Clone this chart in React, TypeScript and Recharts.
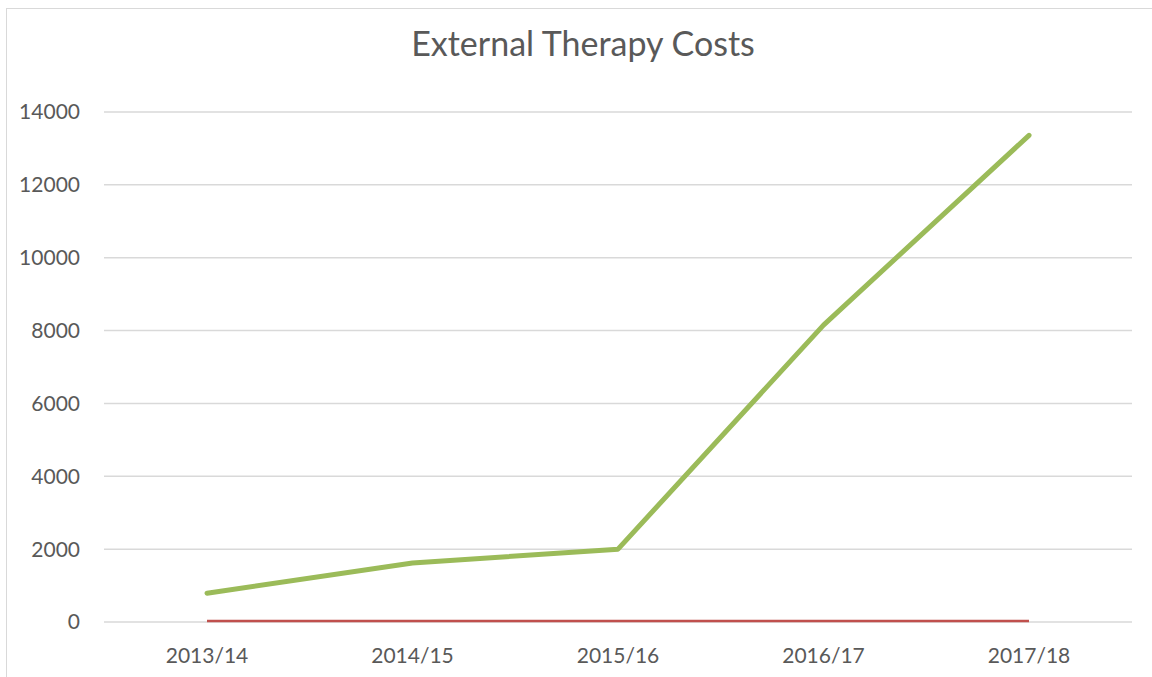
import { LineChart, Line, XAxis, YAxis, CartesianGrid } from 'recharts';

const years = ['2013/14', '2014/15', '2015/16', '2016/17', '2017/18'];
const externalCosts = [790, 1620, 2000, 8150, 13360];
const baseline = [30, 30, 30, 30, 30];
const yTicks = [0, 2000, 4000, 6000, 8000, 10000, 12000, 14000];

const data = years.map((year, i) => ({ year, cost: externalCosts[i], base: baseline[i] }));

const font = 'Lato, "Open Sans", sans-serif';
const tickStyle = { fontSize: 21, fill: '#595959', fontFamily: font };

export default function App() {
  return (
    <div style={{ position: 'absolute', left: 0, top: 0, width: 1152, height: 677, background: '#fff', overflow: 'hidden' }}>
      <div
        style={{
          position: 'absolute',
          left: 6,
          top: 8,
          width: 1160,
          height: 680,
          border: '1px solid #d9d9d9',
        }}
      />
      <div
        style={{
          position: 'absolute',
          left: 0,
          top: 22,
          width: 1166,
          textAlign: 'center',
          fontFamily: font,
          fontSize: 34,
          color: '#595959',
        }}
      >
        External Therapy Costs
      </div>
      <LineChart
        width={1152}
        height={677}
        data={data}
        margin={{ top: 112, right: 20, bottom: 25, left: 0 }}
        style={{ position: 'absolute', left: 0, top: 0 }}
      >
        <CartesianGrid vertical={false} stroke="#d9d9d9" strokeWidth={1.5} />
        <XAxis
          dataKey="year"
          axisLine={false}
          tickLine={false}
          tickMargin={20}
          height={30}
          padding={{ left: 103, right: 103 }}
          tick={tickStyle}
        />
        <YAxis
          domain={[0, 14000]}
          ticks={yTicks}
          width={104}
          axisLine={false}
          tickLine={false}
          tickMargin={18}
          tick={tickStyle}
        />
        <Line
          type="linear"
          dataKey="base"
          stroke="#C0504D"
          strokeWidth={2.5}
          dot={false}
          isAnimationActive={false}
        />
        <Line
          type="linear"
          dataKey="cost"
          stroke="#9BBB59"
          strokeWidth={5}
          strokeLinecap="round"
          strokeLinejoin="round"
          dot={false}
          isAnimationActive={false}
        />
      </LineChart>
    </div>
  );
}
